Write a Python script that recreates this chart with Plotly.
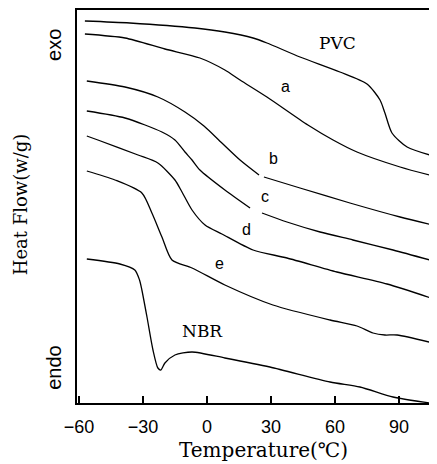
import plotly.graph_objects as go

# DSC curves, temperature in degC, heat flow in arbitrary units (no scale on the original)
pvc_t = [-57.2, -36.1, -5.6, 8.4, 21.6, 28.1, 43.6, 62.3, 75.0, 81.1, 83.4, 86.7, 93.8, 107.8]
pvc_hf = [3.82, 3.80, 3.75, 3.71, 3.65, 3.60, 3.46, 3.31, 3.19, 3.03, 2.90, 2.70, 2.56, 2.46]

a_t = [-57.2, -38.4, -19.7, -3.3, 8.4, 15.5, 28.1, 47.3, 59.1, 70.3, 90.5, 107.8]
a_hf = [3.69, 3.65, 3.54, 3.45, 3.33, 3.23, 3.06, 2.78, 2.63, 2.51, 2.36, 2.26]

b_t = [-56.3, -38.4, -23.0, -10.3, -1.4, 7.0, 15.5, 24.4, None, 26.7, 43.6, 67.0, 90.5, 107.8]
b_hf = [3.22, 3.16, 3.06, 2.91, 2.77, 2.60, 2.43, 2.28, None, 2.26, 2.15, 2.00, 1.86, 1.77]

c_t = [-56.3, -38.4, -21.1, -15.0, -10.3, -7.0, -3.3, 8.4, 20.2, None, 25.8, 37.5, 53.0, 68.4, 87.2, 107.8]
c_hf = [2.92, 2.85, 2.71, 2.63, 2.51, 2.43, 2.33, 2.13, 1.95, None, 1.90, 1.81, 1.71, 1.63, 1.53, 1.41]

d_t = [-56.3, -51.1, -32.3, -23.0, -15.0, -11.7, -7.0, -0.9, 7.0, 21.6, 37.5, 60.9, 84.4, 107.8]
d_hf = [2.67, 2.63, 2.48, 2.40, 2.23, 2.11, 1.93, 1.78, 1.69, 1.53, 1.45, 1.31, 1.19, 1.03]

e_t = [-56.3, -43.1, -30.5, -25.8, -21.1, -16.4, -7.0, 8.4, 30.9, 57.7, 70.3, 77.8, 83.4, 89.1, 107.8]
e_hf = [2.32, 2.23, 2.10, 1.90, 1.66, 1.43, 1.35, 1.18, 0.98, 0.83, 0.77, 0.70, 0.68, 0.68, 0.59]

nbr_t = [-56.3, -40.8, -33.8, -31.6, -30.5, -28.1, -25.3, -23.0, -21.6, -19.7, -15.0, -7.0, 8.4, 29.5, 57.7, 71.7, 87.2, 104.5]
nbr_hf = [1.44, 1.39, 1.33, 1.23, 1.13, 0.86, 0.53, 0.35, 0.33, 0.40, 0.48, 0.51, 0.45, 0.36, 0.21, 0.16, 0.06, 0.00]

curves = [(pvc_t, pvc_hf), (a_t, a_hf), (b_t, b_hf), (c_t, c_hf), (d_t, d_hf), (e_t, e_hf), (nbr_t, nbr_hf)]

# curve labels
label_text = ["PVC", "a", "b", "c", "d", "e", "NBR"]
label_t = [61.4, 37.0, 31.4, 27.2, 18.7, 6.1, -2.3]
label_hf = [3.60, 3.17, 2.45, 2.07, 1.74, 1.40, 0.72]

tick_vals = [-60, -30, 0, 30, 60, 90]

fig = go.Figure()
for t, hf in curves:
    fig.add_trace(go.Scatter(x=t, y=hf, mode="lines", connectgaps=False,
                             line=dict(color="black", width=1.3, shape="spline", smoothing=0.7)))

for txt, t, hf in zip(label_text, label_t, label_hf):
    serif = len(txt) > 1
    fig.add_annotation(x=t, y=hf, text=txt, showarrow=False,
                       font=dict(family="DejaVu Serif" if serif else "Liberation Sans",
                                 size=17 if serif else 16, color="black"))

# page body has an 8px margin, so the figure is a bit smaller and shifted
side = [("exo", -0.064, 0.911, "Liberation Sans", 20),
        ("endo", -0.064, 0.092, "Liberation Sans", 20),
        ("Heat Flow(w/g)", -0.158, 0.506, "DejaVu Serif", 18)]
for txt, px, py, fam, sz in side:
    fig.add_annotation(xref="paper", yref="paper", x=px, y=py, text=txt, textangle=-90,
                       xanchor="center", yanchor="middle", showarrow=False,
                       font=dict(family=fam, size=sz, color="black"))
fig.add_annotation(xref="paper", yref="paper", x=0.519, y=-0.12, text="Temperature(℃)",
                   xanchor="center", yanchor="middle", showarrow=False,
                   font=dict(family="DejaVu Serif", size=20, color="black"))

fig.update_xaxes(range=[-60.9, 107.8], tickvals=tick_vals, ticks="inside", ticklen=7, tickwidth=1.5,
                 tickcolor="black", showline=True, linewidth=2, linecolor="black", mirror=True,
                 showgrid=False, zeroline=False, ticklabelstandoff=6,
                 tickfont=dict(family="Liberation Sans", size=18, color="black"))
fig.update_yaxes(range=[0, 3.93], showticklabels=False, ticks="", showline=True, linewidth=2,
                 linecolor="black", showgrid=False, zeroline=False)
fig.update_layout(width=429, height=456, margin=dict(l=69, r=0, t=2, b=61),
                  plot_bgcolor="white", paper_bgcolor="white", showlegend=False)
fig.write_html("out.html")
